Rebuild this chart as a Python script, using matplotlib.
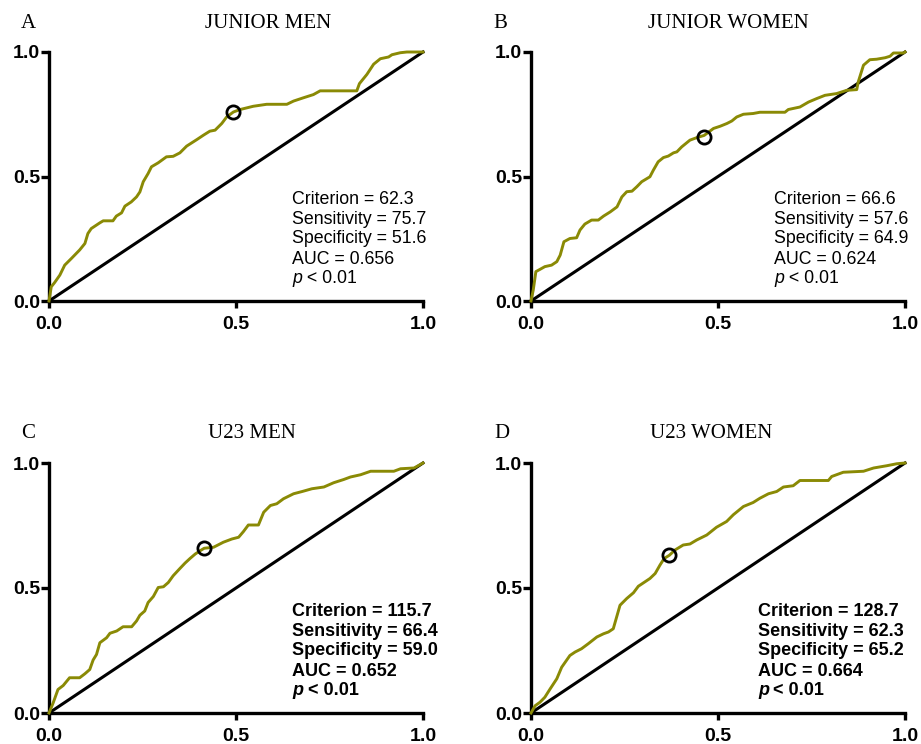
import matplotlib
matplotlib.use("Agg")
import matplotlib.pyplot as plt

# ---------------- data ----------------
jm_fpr = [0, 0.006, 0.015, 0.029, 0.042, 0.06, 0.082, 0.096, 0.104, 0.113, 0.136, 0.145, 0.171, 0.18, 0.194,
          0.203, 0.22, 0.234, 0.243, 0.252, 0.265, 0.274, 0.292, 0.314, 0.332, 0.35, 0.368, 0.395, 0.413, 0.43,
          0.444, 0.462, 0.475, 0.493, 0.511, 0.546, 0.582, 0.636, 0.654, 0.68, 0.707, 0.725, 0.823, 0.83, 0.85,
          0.868, 0.886, 0.908, 0.917, 0.939, 0.957, 1.0]
jm_tpr = [0, 0.057, 0.074, 0.104, 0.144, 0.171, 0.205, 0.231, 0.271, 0.291, 0.314, 0.322, 0.322, 0.341, 0.354,
          0.381, 0.398, 0.418, 0.438, 0.479, 0.512, 0.539, 0.555, 0.579, 0.581, 0.595, 0.622, 0.648, 0.666, 0.682,
          0.686, 0.713, 0.739, 0.759, 0.769, 0.782, 0.79, 0.79, 0.803, 0.816, 0.829, 0.844, 0.844, 0.873, 0.91,
          0.951, 0.973, 0.98, 0.989, 0.997, 1.0, 1.0]

jw_fpr = [0, 0.006, 0.013, 0.024, 0.037, 0.055, 0.069, 0.078, 0.088, 0.104, 0.122, 0.131, 0.144, 0.162, 0.18,
          0.194, 0.212, 0.23, 0.243, 0.256, 0.27, 0.283, 0.296, 0.318, 0.327, 0.34, 0.354, 0.367, 0.381, 0.39,
          0.403, 0.425, 0.443, 0.463, 0.488, 0.506, 0.524, 0.537, 0.55, 0.568, 0.594, 0.612, 0.679, 0.688, 0.719,
          0.742, 0.764, 0.786, 0.817, 0.844, 0.871, 0.875, 0.889, 0.906, 0.924, 0.947, 0.96, 0.969, 0.996, 1.0]
jw_tpr = [0, 0.044, 0.118, 0.127, 0.138, 0.144, 0.158, 0.184, 0.238, 0.251, 0.254, 0.285, 0.309, 0.325, 0.325,
          0.341, 0.358, 0.378, 0.418, 0.439, 0.441, 0.459, 0.479, 0.499, 0.525, 0.559, 0.576, 0.582, 0.595, 0.599,
          0.619, 0.646, 0.656, 0.665, 0.693, 0.702, 0.713, 0.723, 0.739, 0.75, 0.753, 0.758, 0.758, 0.769, 0.779,
          0.799, 0.813, 0.826, 0.833, 0.846, 0.849, 0.88, 0.947, 0.969, 0.971, 0.977, 0.983, 0.996, 0.996, 1.0]

um_fpr = [0, 0.011, 0.024, 0.038, 0.055, 0.082, 0.096, 0.109, 0.118, 0.127, 0.136, 0.154, 0.163, 0.181, 0.198,
          0.221, 0.234, 0.243, 0.256, 0.265, 0.279, 0.292, 0.306, 0.319, 0.332, 0.35, 0.364, 0.377, 0.391, 0.404,
          0.415, 0.44, 0.466, 0.489, 0.507, 0.52, 0.533, 0.56, 0.574, 0.592, 0.609, 0.627, 0.654, 0.677, 0.703,
          0.735, 0.761, 0.788, 0.806, 0.833, 0.86, 0.922, 0.94, 0.976, 1.0]
um_tpr = [0, 0.04, 0.094, 0.11, 0.141, 0.141, 0.157, 0.174, 0.212, 0.234, 0.281, 0.301, 0.319, 0.328, 0.345,
          0.345, 0.368, 0.391, 0.408, 0.442, 0.466, 0.502, 0.505, 0.522, 0.549, 0.578, 0.6, 0.618, 0.636, 0.649,
          0.659, 0.663, 0.683, 0.696, 0.703, 0.726, 0.752, 0.752, 0.803, 0.83, 0.837, 0.857, 0.877, 0.886, 0.897,
          0.904, 0.921, 0.934, 0.944, 0.953, 0.967, 0.967, 0.977, 0.98, 1.0]

uw_fpr = [0, 0.011, 0.024, 0.037, 0.051, 0.069, 0.082, 0.104, 0.118, 0.135, 0.153, 0.176, 0.194, 0.207, 0.22,
          0.229, 0.238, 0.256, 0.274, 0.287, 0.305, 0.318, 0.332, 0.345, 0.356, 0.37, 0.385, 0.407, 0.425, 0.443,
          0.47, 0.496, 0.523, 0.541, 0.568, 0.594, 0.612, 0.635, 0.657, 0.675, 0.701, 0.719, 0.795, 0.804, 0.835,
          0.889, 0.916, 0.951, 0.978, 1.0]
uw_tpr = [0, 0.029, 0.043, 0.063, 0.096, 0.137, 0.183, 0.23, 0.244, 0.257, 0.277, 0.304, 0.317, 0.324, 0.337,
          0.384, 0.431, 0.458, 0.481, 0.507, 0.525, 0.538, 0.558, 0.592, 0.618, 0.631, 0.652, 0.672, 0.676, 0.692,
          0.712, 0.743, 0.766, 0.793, 0.826, 0.842, 0.859, 0.877, 0.886, 0.904, 0.909, 0.93, 0.93, 0.946, 0.963,
          0.967, 0.98, 0.989, 0.997, 1.0]

panel_letters = ["A", "B", "C", "D"]
panel_titles = ["JUNIOR MEN", "JUNIOR WOMEN", "U23 MEN", "U23 WOMEN"]
cut_x = [0.493, 0.463, 0.415, 0.37]
cut_y = [0.759, 0.659, 0.659, 0.631]
criterion = ["62.3", "66.6", "115.7", "128.7"]
sensitivity = ["75.7", "57.6", "66.4", "62.3"]
specificity = ["51.6", "64.9", "59.0", "65.2"]
auc = ["0.656", "0.624", "0.652", "0.664"]
p_text = "< 0.01"
ticks = [0.0, 0.5, 1.0]
tick_labels = ["0.0", "0.5", "1.0"]

curves = [(jm_fpr, jm_tpr), (jw_fpr, jw_tpr), (um_fpr, um_tpr), (uw_fpr, uw_tpr)]

# ---------------- layout ----------------
W, H = 921, 744
fig = plt.figure(figsize=(W / 100, H / 100), dpi=100)

# axes boxes in pixels: left, top, right, bottom
boxes = [(49, 52, 423, 301), (531, 52, 905, 301), (49, 463, 423, 713), (531, 463, 905, 713)]
title_x = [268, 728, 252, 711]
title_y = [23, 23, 433, 433]
letter_x = [21, 493, 21, 494]
text_x = [0.65, 0.65, 0.65, 0.607]
bold_text = [False, False, True, True]

olive = "#8a8a05"
sans = ["Liberation Sans", "Arial", "DejaVu Sans"]
serif = ["Liberation Serif", "Times New Roman", "DejaVu Serif"]

for i in range(4):
    l, t, r, b = boxes[i]
    ax = fig.add_axes([l / W, (H - b) / H, (r - l) / W, (b - t) / H])
    ax.set_xlim(0, 1)
    ax.set_ylim(0, 1)
    for s in ["top", "right"]:
        ax.spines[s].set_visible(False)
    for s in ["left", "bottom"]:
        ax.spines[s].set_linewidth(2.4)
        ax.spines[s].set_capstyle("projecting")
    ax.set_xticks(ticks)
    ax.set_yticks(ticks)
    ax.set_xticklabels(tick_labels, fontfamily=sans, fontweight="bold", fontsize=14)
    ax.set_yticklabels(tick_labels, fontfamily=sans, fontweight="bold", fontsize=14)
    ax.tick_params(axis="x", direction="out", length=5, width=2.4, pad=6)
    ax.tick_params(axis="y", direction="out", length=6, width=2.4, pad=0.5)

    ax.plot([0, 1], [0, 1], color="black", lw=2.2, clip_on=False, zorder=2)
    fx, ty = curves[i]
    ax.plot(fx, ty, color=olive, lw=2.1, clip_on=False, zorder=3, solid_joinstyle="round")
    ax.plot([cut_x[i]], [cut_y[i]], marker="o", ms=9.5, mfc="none", mec="black", mew=2.0,
            clip_on=False, zorder=4)

    fw = "bold" if bold_text[i] else "normal"
    fs = 13 if bold_text[i] else 12.8
    lines = ["Criterion = " + criterion[i], "Sensitivity = " + sensitivity[i],
             "Specificity = " + specificity[i], "AUC = " + auc[i]]
    ys = [0.408, 0.328, 0.249, 0.167]
    for s, yy in zip(lines, ys):
        ax.text(text_x[i], yy, s, transform=ax.transAxes, ha="left", va="center",
                fontfamily=sans, fontweight=fw, fontsize=fs)
    ax.annotate("p", xy=(text_x[i], 0.089), xycoords="axes fraction", ha="left", va="center",
                fontfamily=sans, fontweight=fw, fontstyle="italic", fontsize=fs)
    ax.annotate(" " + p_text, xy=(text_x[i], 0.089), xycoords="axes fraction",
                xytext=(0.556 * fs + 0.3, 0), textcoords="offset points", ha="left", va="center",
                fontfamily=sans, fontweight=fw, fontsize=fs)

    fig.text(title_x[i] / W, 1 - title_y[i] / H, panel_titles[i], ha="center", va="center",
             fontfamily=serif, fontsize=15)
    fig.text(letter_x[i] / W, 1 - title_y[i] / H, panel_letters[i], ha="left", va="center",
             fontfamily=serif, fontsize=15)

fig.savefig("out.png", dpi=100)
